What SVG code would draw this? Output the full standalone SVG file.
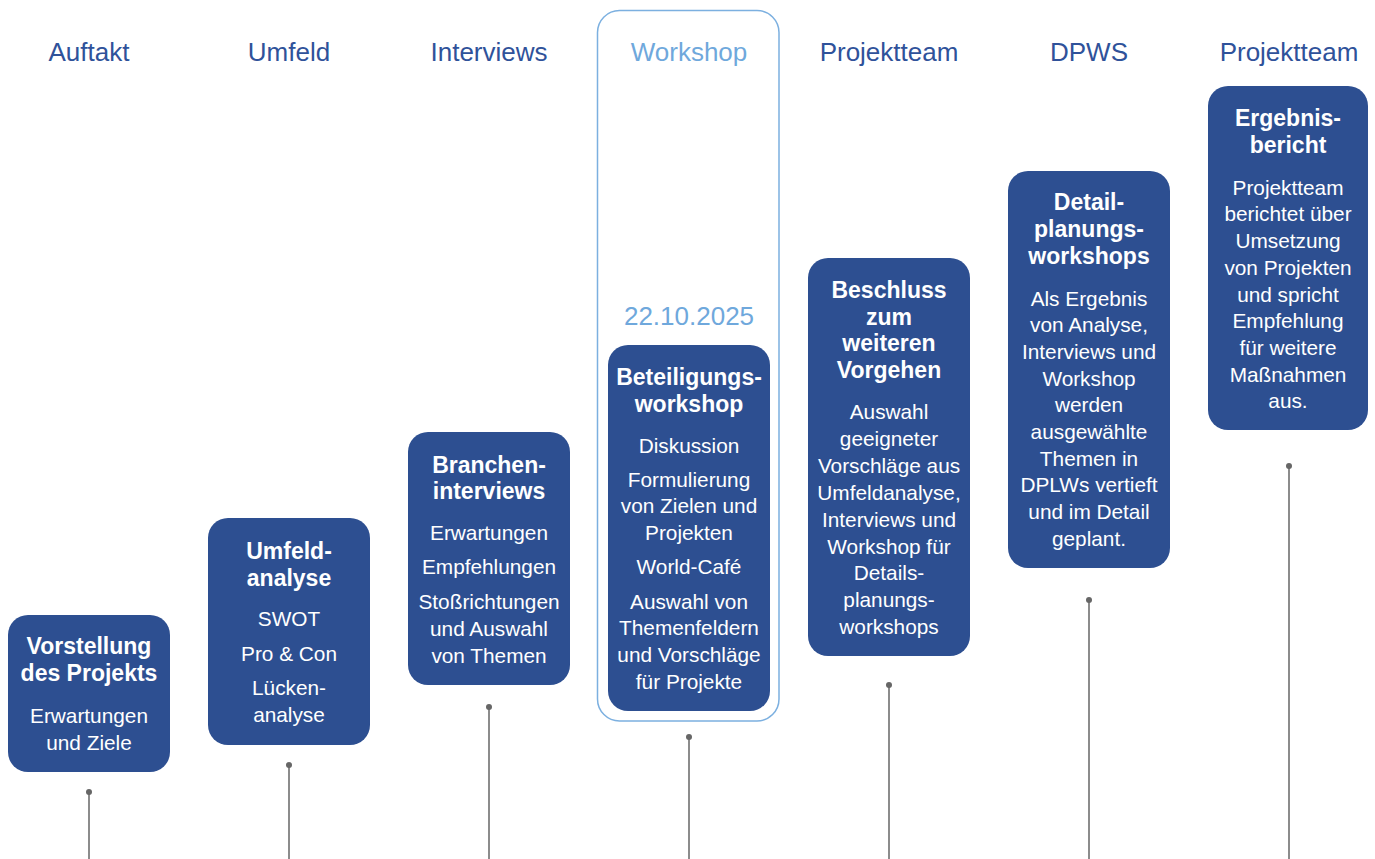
<svg xmlns="http://www.w3.org/2000/svg" width="1375" height="859" viewBox="0 0 1375 859">
<style>
.hd{font-family:"Liberation Sans",Arial,sans-serif;font-size:26px;fill:#2f529a;text-anchor:middle}
.lt{fill:#6fa8dc}
.box{fill:#2d4f91}
.t{font-family:"Liberation Sans",Arial,sans-serif;font-size:23px;font-weight:bold;fill:#fff;text-anchor:middle}
.b{font-family:"Liberation Sans",Arial,sans-serif;font-size:20.8px;fill:#fff;text-anchor:middle}
.ln{stroke:#666;stroke-width:1.5;fill:none}
.dot{fill:#666}
</style>
<rect width="1375" height="859" fill="#fff"/>
<g id="headers">
<text class="hd" x="89" y="61">Auftakt</text>
<text class="hd" x="289" y="61">Umfeld</text>
<text class="hd" x="489" y="61">Interviews</text>
<text class="hd lt" x="689" y="61">Workshop</text>
<text class="hd" x="889" y="61">Projektteam</text>
<text class="hd" x="1089" y="61">DPWS</text>
<text class="hd" x="1289" y="61">Projektteam</text>
</g>
<g id="workshop-frame">
<rect x="597.5" y="10.5" width="181.5" height="710.5" rx="22" fill="none" stroke="#7cb0e0" stroke-width="1.5"/>
<text class="hd lt" x="689" y="325">22.10.2025</text>
</g>
<g id="connectors">
<line class="ln" x1="89" y1="792" x2="89" y2="859"/><circle class="dot" cx="89" cy="792" r="3"/>
<line class="ln" x1="289" y1="765" x2="289" y2="859"/><circle class="dot" cx="289" cy="765" r="3"/>
<line class="ln" x1="489" y1="707" x2="489" y2="859"/><circle class="dot" cx="489" cy="707" r="3"/>
<line class="ln" x1="689" y1="737" x2="689" y2="859"/><circle class="dot" cx="689" cy="737" r="3"/>
<line class="ln" x1="889" y1="685" x2="889" y2="859"/><circle class="dot" cx="889" cy="685" r="3"/>
<line class="ln" x1="1089" y1="600" x2="1089" y2="859"/><circle class="dot" cx="1089" cy="600" r="3"/>
<line class="ln" x1="1289" y1="466" x2="1289" y2="859"/><circle class="dot" cx="1289" cy="466" r="3"/>
</g>
<g id="node1">
<rect class="box" x="8" y="615" width="162" height="157" rx="20"/>
<text class="t" x="89" y="654">Vorstellung</text>
<text class="t" x="89" y="681">des Projekts</text>
<text class="b" x="89" y="723">Erwartungen</text>
<text class="b" x="89" y="750">und Ziele</text>
</g>
<g id="node2">
<rect class="box" x="208" y="518" width="162" height="227" rx="20"/>
<text class="t" x="289" y="559">Umfeld-</text>
<text class="t" x="289" y="586">analyse</text>
<text class="b" x="289" y="626">SWOT</text>
<text class="b" x="289" y="661">Pro &amp; Con</text>
<text class="b" x="289" y="695">Lücken-</text>
<text class="b" x="289" y="722">analyse</text>
</g>
<g id="node3">
<rect class="box" x="408" y="432" width="162" height="253" rx="20"/>
<text class="t" x="489" y="473">Branchen-</text>
<text class="t" x="489" y="499">interviews</text>
<text class="b" x="489" y="540">Erwartungen</text>
<text class="b" x="489" y="574">Empfehlungen</text>
<text class="b" x="489" y="609">Stoßrichtungen</text>
<text class="b" x="489" y="636">und Auswahl</text>
<text class="b" x="489" y="663">von Themen</text>
</g>
<g id="node4">
<rect class="box" x="608" y="345" width="162" height="366" rx="20"/>
<text class="t" x="689" y="385">Beteiligungs-</text>
<text class="t" x="689" y="412">workshop</text>
<text class="b" x="689" y="453">Diskussion</text>
<text class="b" x="689" y="487">Formulierung</text>
<text class="b" x="689" y="513">von Zielen und</text>
<text class="b" x="689" y="540">Projekten</text>
<text class="b" x="689" y="574">World-Café</text>
<text class="b" x="689" y="609">Auswahl von</text>
<text class="b" x="689" y="635">Themenfeldern</text>
<text class="b" x="689" y="662">und Vorschläge</text>
<text class="b" x="689" y="689">für Projekte</text>
</g>
<g id="node5">
<rect class="box" x="808" y="258" width="162" height="398" rx="20"/>
<text class="t" x="889" y="298">Beschluss</text>
<text class="t" x="889" y="325">zum</text>
<text class="t" x="889" y="351">weiteren</text>
<text class="t" x="889" y="378">Vorgehen</text>
<text class="b" x="889" y="419">Auswahl</text>
<text class="b" x="889" y="446">geeigneter</text>
<text class="b" x="889" y="473">Vorschläge aus</text>
<text class="b" x="889" y="500">Umfeldanalyse,</text>
<text class="b" x="889" y="527">Interviews und</text>
<text class="b" x="889" y="554">Workshop für</text>
<text class="b" x="889" y="580">Details-</text>
<text class="b" x="889" y="607">planungs-</text>
<text class="b" x="889" y="634">workshops</text>
</g>
<g id="node6">
<rect class="box" x="1008" y="171" width="162" height="397" rx="20"/>
<text class="t" x="1089" y="210">Detail-</text>
<text class="t" x="1089" y="237">planungs-</text>
<text class="t" x="1089" y="264">workshops</text>
<text class="b" x="1089" y="306">Als Ergebnis</text>
<text class="b" x="1089" y="332">von Analyse,</text>
<text class="b" x="1089" y="359">Interviews und</text>
<text class="b" x="1089" y="386">Workshop</text>
<text class="b" x="1089" y="412">werden</text>
<text class="b" x="1089" y="439">ausgewählte</text>
<text class="b" x="1089" y="466">Themen in</text>
<text class="b" x="1089" y="492">DPLWs vertieft</text>
<text class="b" x="1089" y="519">und im Detail</text>
<text class="b" x="1089" y="546">geplant.</text>
</g>
<g id="node7">
<rect class="box" x="1208" y="86" width="160" height="344" rx="20"/>
<text class="t" x="1288" y="126">Ergebnis-</text>
<text class="t" x="1288" y="153">bericht</text>
<text class="b" x="1288" y="195">Projektteam</text>
<text class="b" x="1288" y="221">berichtet über</text>
<text class="b" x="1288" y="248">Umsetzung</text>
<text class="b" x="1288" y="275">von Projekten</text>
<text class="b" x="1288" y="302">und spricht</text>
<text class="b" x="1288" y="328">Empfehlung</text>
<text class="b" x="1288" y="355">für weitere</text>
<text class="b" x="1288" y="382">Maßnahmen</text>
<text class="b" x="1288" y="408">aus.</text>
</g>
</svg>
